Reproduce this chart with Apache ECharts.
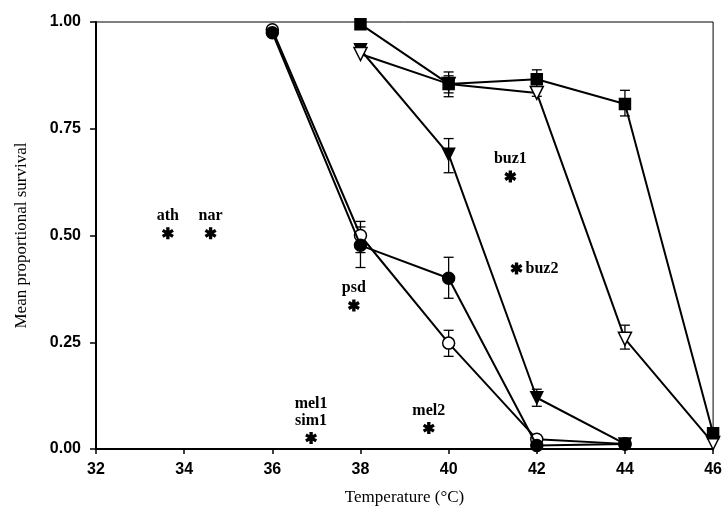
<!DOCTYPE html>
<html>
<head>
<meta charset="utf-8">
<script src="https://cdn.jsdelivr.net/npm/echarts@6/dist/echarts.min.js"></script>
<style>
  html, body { margin: 0; padding: 0; background: #fff; }
  #chart { width: 725px; height: 513px; }
</style>
</head>
<body>
<div id="chart"></div>
<script>
// x ticks / y ticks
var xTicks = [32, 34, 36, 38, 40, 42, 44, 46];
var yTicks = [0, 0.25, 0.5, 0.75, 1];

// survival curves [temperature, mean]
var filledCircle = [[36, 0.975], [38, 0.477], [40, 0.40], [42, 0.008], [44, 0.012]];
var openCircle = [[36, 0.982], [38, 0.50], [40, 0.248], [42, 0.023], [44, 0.012]];
var filledTri = [[38, 0.935], [40, 0.69], [42, 0.12], [44, 0.012]];
var openTri = [[38, 0.925], [40, 0.855], [42, 0.834], [44, 0.258], [46, 0.014]];
var filledSquare = [[38, 0.995], [40, 0.855], [42, 0.866], [44, 0.808], [46, 0.037]];

// error bars [temperature, low, high]
var errBars = [
  [40, 0.825, 0.883], [42, 0.848, 0.888], [44, 0.78, 0.84],
  [40, 0.834, 0.874], [42, 0.826, 0.842], [44, 0.234, 0.29],
  [40, 0.647, 0.727], [42, 0.10, 0.14],
  [38, 0.425, 0.52], [40, 0.353, 0.449],
  [38, 0.46, 0.533], [40, 0.217, 0.278]
];

// single species points
var starNames = ['ath', 'nar', 'psd', 'mel1\nsim1', 'mel2', 'buz1', 'buz2'];
var starPoints = [[33.63, 0.505], [34.6, 0.505], [37.85, 0.336], [36.88, 0.026], [39.55, 0.049], [41.4, 0.638], [41.54, 0.423]];

// six-armed asterisk
var asterisk = 'path://M-0.28,-1L0.28,-1L0.28,1L-0.28,1Z' +
  'M0.726,-0.742L1.006,-0.258L-0.726,0.742L-1.006,0.258Z' +
  'M-1.006,-0.258L-0.726,-0.742L1.006,0.258L0.726,0.742Z';

var chart = echarts.init(document.getElementById('chart'), null, {renderer: 'canvas'});

function lineSeries(data, symbol, filled, size, z){
  return {
    type: 'line',
    data: data,
    symbol: symbol,
    symbolSize: size,
    showAllSymbol: true,
    lineStyle: {color: '#000', width: 2},
    itemStyle: {color: filled ? '#000' : '#fff', borderColor: '#000', borderWidth: 1.5, opacity: 1},
    z: z,
    animation: false
  };
}

var option = {
  backgroundColor: '#fff',
  animation: false,
  grid: {left: 96, right: 9, top: 22, bottom: 64, show: true, borderColor: '#000', borderWidth: 1, containLabel: false},
  xAxis: {
    type: 'value',
    min: xTicks[0], max: xTicks[xTicks.length - 1], interval: 2,
    name: 'Temperature (°C)', nameLocation: 'middle', nameGap: 40,
    nameTextStyle: {fontFamily: 'Liberation Serif', fontSize: 17, color: '#000'},
    axisLine: {lineStyle: {color: '#000', width: 2}},
    axisTick: {show: true, length: 5, lineStyle: {color: '#000', width: 1.5}},
    axisLabel: {fontFamily: 'Liberation Sans', fontWeight: 'bold', fontSize: 16, color: '#000', margin: 13},
    splitLine: {show: false}
  },
  yAxis: {
    type: 'value',
    min: yTicks[0], max: yTicks[yTicks.length - 1], interval: 0.25,
    name: 'Mean proportional survival', nameLocation: 'middle', nameGap: 66,
    nameTextStyle: {fontFamily: 'Liberation Serif', fontSize: 17, color: '#000'},
    axisLine: {lineStyle: {color: '#000', width: 2}},
    axisTick: {show: true, length: 6, lineStyle: {color: '#000', width: 1.5}},
    axisLabel: {fontFamily: 'Liberation Sans', fontWeight: 'bold', fontSize: 16, color: '#000', margin: 15,
      formatter: function(v){ return v.toFixed(2); }},
    splitLine: {show: false}
  },
  series: [
    {
      type: 'custom',
      data: errBars,
      z: 1,
      renderItem: function(params, api){
        var x = api.value(0);
        var lo = api.coord([x, api.value(1)]);
        var hi = api.coord([x, api.value(2)]);
        var w = 5;
        var st = {stroke: '#000', lineWidth: 1.3};
        return {
          type: 'group',
          children: [
            {type: 'line', shape: {x1: lo[0], y1: lo[1], x2: hi[0], y2: hi[1]}, style: st},
            {type: 'line', shape: {x1: lo[0] - w, y1: lo[1], x2: lo[0] + w, y2: lo[1]}, style: st},
            {type: 'line', shape: {x1: hi[0] - w, y1: hi[1], x2: hi[0] + w, y2: hi[1]}, style: st}
          ]
        };
      }
    },
    lineSeries(openCircle, 'circle', false, 12, 2),
    lineSeries(filledCircle, 'circle', true, 12, 3),
    lineSeries(filledTri, 'triangle', true, 12, 4),
    lineSeries(openTri, 'triangle', false, 13, 4),
    lineSeries(filledSquare, 'rect', true, 11, 5),
    {
      type: 'scatter',
      data: starPoints.map(function(p, i){
        return {value: p, name: starNames[i], label: {position: i === 6 ? 'right' : 'top'}};
      }),
      symbol: asterisk,
      symbolSize: 12,
      itemStyle: {color: '#000', opacity: 1},
      label: {
        show: true,
        formatter: function(p){ return p.name; },
        fontFamily: 'Liberation Serif', fontWeight: 'bold', fontSize: 16, color: '#000',
        textBorderWidth: 0, lineHeight: 17, distance: 3
      },
      emphasis: {disabled: true},
      z: 6
    }
  ]
};

// open triangles point down
option.series[3].symbolRotate = 180;
option.series[4].symbolRotate = 180;

chart.setOption(option);
window.addEventListener('resize', function(){ chart.resize(); });
</script>
</body>
</html>
